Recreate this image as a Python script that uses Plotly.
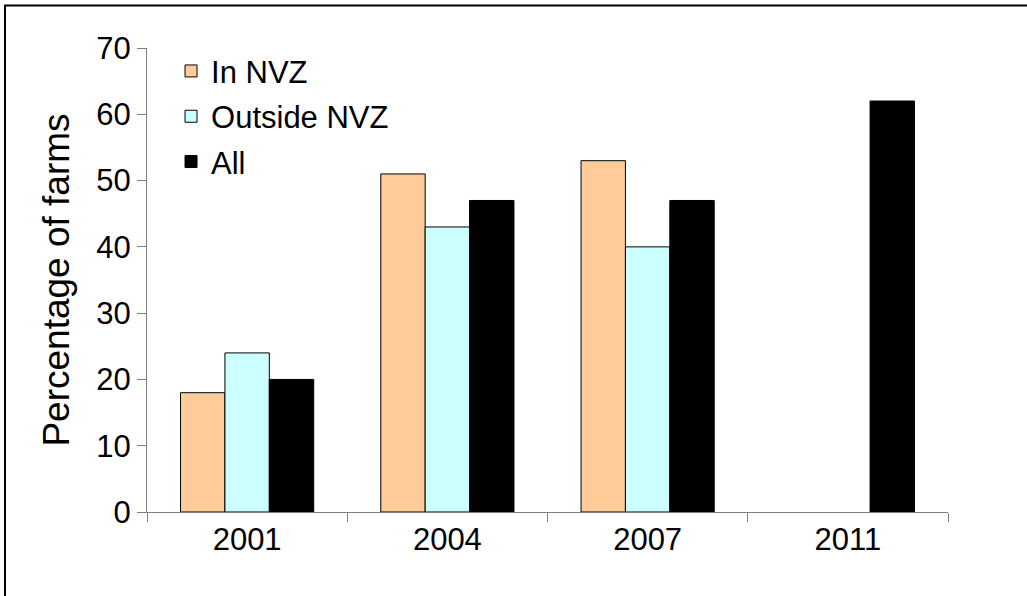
import plotly.graph_objects as go

years = ["2001", "2004", "2007", "2011"]
in_nvz = [18, 51, 53, None]
outside_nvz = [24, 43, 40, None]
all_farms = [20, 47, 47, 62]

series = [
    ("In NVZ", in_nvz, "#FFCC99"),
    ("Outside NVZ", outside_nvz, "#CCFFFF"),
    ("All", all_farms, "#000000"),
]

fig = go.Figure()
for i, (name, vals, col) in enumerate(series):
    fig.add_trace(
        go.Bar(
            x=years,
            y=vals,
            name=name,
            legendgroup=str(i),
            marker=dict(color=col, line=dict(color="black", width=1)),
        )
    )

fig.update_layout(
    width=1027,
    height=596,
    margin=dict(l=147, r=79, t=48, b=84),
    paper_bgcolor="white",
    plot_bgcolor="white",
    font=dict(family="Liberation Sans, Arial, sans-serif", size=31, color="black"),
    barmode="group",
    bargap=0.335,
    bargroupgap=0,
    showlegend=True,
    legend=dict(
        x=0.03,
        y=1.008,
        xanchor="left",
        yanchor="top",
        bgcolor="rgba(0,0,0,0)",
        traceorder="grouped",
        tracegroupgap=2,
        font=dict(size=31),
    ),
)

fig.update_yaxes(
    range=[0, 70],
    dtick=10,
    showgrid=False,
    zeroline=False,
    showline=True,
    linecolor="#808080",
    linewidth=1,
    ticks="outside",
    ticklen=9,
    tickcolor="#808080",
    title=dict(text="Percentage of farms", standoff=15),
)
fig.update_xaxes(
    type="category",
    showgrid=False,
    showline=True,
    linecolor="#808080",
    linewidth=1,
    ticks="outside",
    ticklen=9,
    tickcolor="#808080",
    tickson="boundaries",
)

# outer frame
fig.add_shape(
    type="rect",
    xref="paper",
    yref="paper",
    x0=-0.1773,
    x1=1.12,
    y0=-0.22,
    y1=1.0915,
    line=dict(color="black", width=2),
    fillcolor="rgba(0,0,0,0)",
    layer="below",
)

# drop the default page margin so the figure sits at the top-left corner
fig.write_html(
    "out.html",
    config={"displayModeBar": False},
    post_script="document.body.style.margin='0';",
)
